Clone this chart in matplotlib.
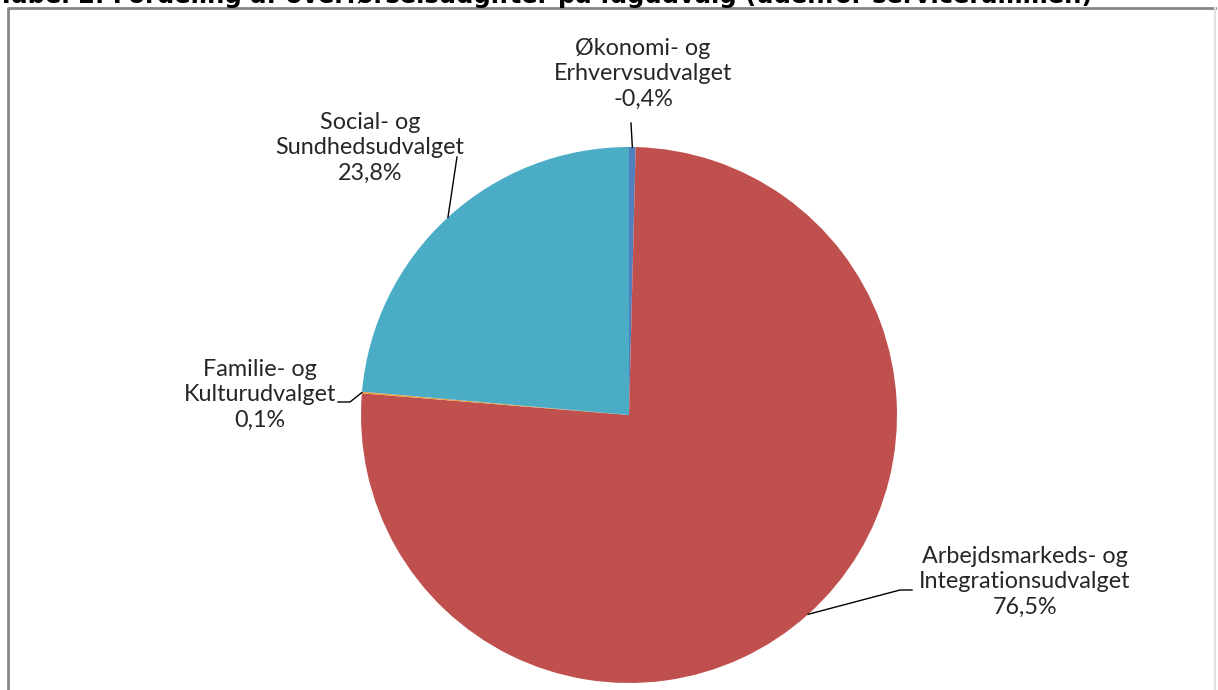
import numpy as np
import matplotlib.pyplot as plt
from matplotlib.lines import Line2D

# data, clockwise from 12 o'clock as in the original chart
udvalg = [
    "Økonomi- og\nErhvervsudvalget",
    "Arbejdsmarkeds- og\nIntegrationsudvalget",
    "Familie- og\nKulturudvalget",
    "Social- og\nSundhedsudvalget",
]
andel = [-0.4, 76.5, 0.1, 23.8]  # procent
farver = ["#4F81BD", "#C0504D", "#E5A040", "#4BACC6"]

TITEL = "Tabel 2. Fordeling af overførselsudgifter på fagudvalg (udenfor servicerammen)"

W, H = 1218, 690
CX, CY, R = 629, 415, 268  # pie centre / radius in pixels


def px(x, y):
    # pixel position (from top left) -> data coords, pie radius = 1
    return (x - CX) / R, (CY - y) / R


fig = plt.figure(figsize=(W / 100, H / 100), dpi=100)
ax = fig.add_axes([0, 0, 1, 1])

wedges, _ = ax.pie(
    np.abs(andel),
    colors=farver,
    startangle=90,
    counterclock=False,
    radius=1,
    wedgeprops=dict(linewidth=0),
)

x0, y0 = px(0, H)
x1, y1 = px(W, 0)
ax.set_xlim(x0, x1)
ax.set_ylim(y0, y1)
ax.set_aspect("auto")
ax.axis("off")

# label text centre and start of leader line (pixels)
label_pos = [(643, 74), (1025, 582), (260, 395), (370, 148)]
leader_start = [[(631, 123)], [(912, 590), (900, 590)], [(338, 402), (350, 402)], [(457, 157)]]

for w, navn, v, (lx, ly), pts in zip(wedges, udvalg, andel, label_pos, leader_start):
    mid = np.deg2rad((w.theta1 + w.theta2) / 2)
    ex, ey = np.cos(mid), np.sin(mid)
    tekst = f"{navn}\n{v:.1f}%".replace(".", ",")
    ax.text(*px(lx, ly), tekst, ha="center", va="center", fontsize=16.8,
            family=["Lato", "DejaVu Sans"], color="#262626", linespacing=1.25)
    xs = [px(*p)[0] for p in pts] + [ex]
    ys = [px(*p)[1] for p in pts] + [ey]
    ax.plot(xs, ys, color="#000000", lw=1.0)

# frame round the chart: top and left grey, right edge faint
fx0, fx1, fy = 8 / W, 1215 / W, 1 - 7.5 / H
fig.lines.append(Line2D([fx0, fx0, fx1], [-0.01, fy, fy], transform=fig.transFigure,
                        color="#868686", lw=2))
fig.lines.append(Line2D([fx1, fx1], [-0.01, fy], transform=fig.transFigure,
                        color="#e0e0e0", lw=1.5))

# title sits above the frame, mostly cropped away as in the source
fig.text(-2 / W, 1 - 3.5 / H, TITEL, ha="left", va="baseline",
         fontsize=17.5, fontweight="bold", family="DejaVu Sans")

fig.savefig("out.png", dpi=100)
